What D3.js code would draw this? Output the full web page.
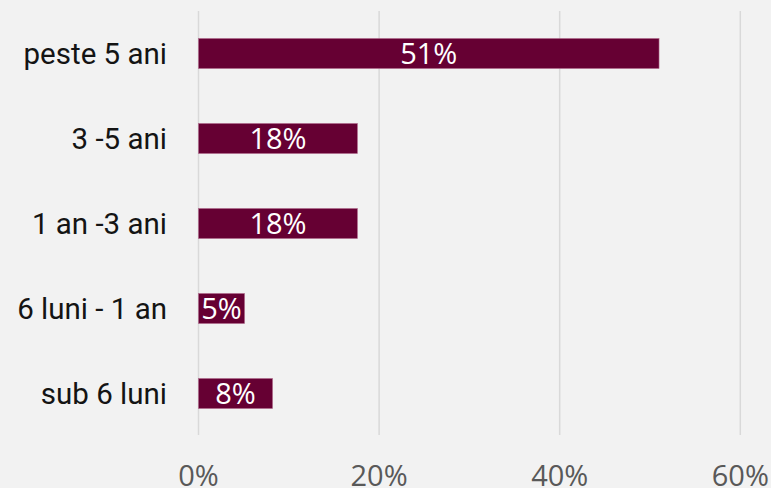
<!DOCTYPE html>
<html>
<head>
<meta charset="utf-8">
<script src="https://cdn.jsdelivr.net/npm/d3@7"></script>
<style>
  html, body { margin: 0; padding: 0; background: #f2f2f2; }
  svg { display: block; }
  .cat { font-family: "Roboto", sans-serif; font-size: 29.5px; fill: #141414; }
  .tick-label { font-family: "Open Sans", sans-serif; font-size: 29px; fill: #595959; }
  .bar-label { font-family: "Open Sans", sans-serif; font-size: 29px; fill: #ffffff; }
</style>
</head>
<body>
<div id="chart"></div>
<script>
const width = 771;
const height = 488;

const categories = ["peste 5 ani", "3 -5 ani", "1 an -3 ani", "6 luni - 1 an", "sub 6 luni"];
const values = [51, 17.6, 17.6, 5.1, 8.2];
const labels = ["51%", "18%", "18%", "5%", "8%"];
const ticks = [0, 20, 40, 60];

const data = categories.map((name, i) => ({ name, value: values[i], label: labels[i] }));

const svg = d3.select("#chart")
  .append("svg")
  .attr("width", width)
  .attr("height", height);

svg.append("rect")
  .attr("width", width)
  .attr("height", height)
  .attr("fill", "#f2f2f2");

const x = d3.scaleLinear()
  .domain([0, 60])
  .range([198.5, 740.3]);

const y = d3.scaleBand()
  .domain(categories)
  .range([11, 436])
  .paddingInner(55 / 85)
  .paddingOuter(55 / 170);

// gridlines
svg.append("g")
  .selectAll("line")
  .data(ticks)
  .join("line")
  .attr("x1", d => x(d))
  .attr("x2", d => x(d))
  .attr("y1", 11)
  .attr("y2", 435)
  .attr("stroke", "#d9d9d9")
  .attr("stroke-width", 1.5);

// bars
svg.append("g")
  .selectAll("rect")
  .data(data)
  .join("rect")
  .attr("x", x(0))
  .attr("y", d => y(d.name))
  .attr("width", d => x(d.value) - x(0))
  .attr("height", y.bandwidth())
  .attr("fill", "#660033")
  .attr("stroke", "#b06a8c")
  .attr("stroke-width", 0.6);

// bar labels
svg.append("g")
  .selectAll("text")
  .data(data)
  .join("text")
  .attr("class", "bar-label")
  .attr("x", d => (x(0) + x(d.value)) / 2)
  .attr("y", d => y(d.name) + y.bandwidth() / 2)
  .attr("dy", "0.36em")
  .attr("text-anchor", "middle")
  .text(d => d.label);

// category labels
svg.append("g")
  .selectAll("text")
  .data(categories)
  .join("text")
  .attr("class", "cat")
  .attr("x", 167)
  .attr("y", d => y(d) + y.bandwidth() / 2)
  .attr("dy", "0.36em")
  .attr("text-anchor", "end")
  .text(d => d);

// x tick labels
svg.append("g")
  .selectAll("text")
  .data(ticks)
  .join("text")
  .attr("class", "tick-label")
  .attr("x", d => x(d))
  .attr("y", 476)
  .attr("dy", "0.36em")
  .attr("text-anchor", "middle")
  .text(d => d + "%");
</script>
</body>
</html>
